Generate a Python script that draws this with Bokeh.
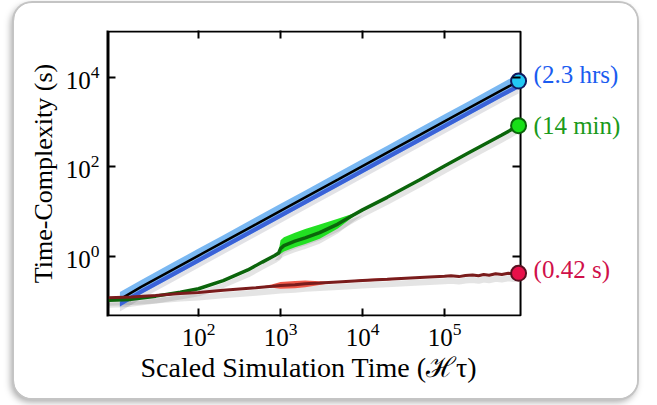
from bokeh.plotting import figure
from bokeh.models import LogAxis, FixedTicker, Range1d, LogScale, BoxAnnotation, ColumnDataSource, Title
from bokeh.core.properties import value
from bokeh.embed import file_html
from bokeh.resources import INLINE

# ---- data ----
x_blue = [11, 20, 50, 100, 200, 500, 1000, 2000, 5000, 10000, 20000, 50000, 100000, 200000, 500000, 800000]
blue = [0.11, 0.21, 0.52, 1.05, 2.1, 5.2, 10.5, 21, 52, 105, 210, 520, 1050, 2100, 5200, 8300]
blue_hi = [0.16, 0.30, 0.75, 1.5, 3.0, 7.5, 15, 30, 75, 150, 300, 750, 1500, 3000, 7500, 12000]
blue_lo = [0.076, 0.145, 0.36, 0.72, 1.45, 3.6, 7.2, 14.5, 36, 72, 145, 360, 720, 1450, 3600, 5700]
blue_mid = [0.098, 0.185, 0.46, 0.93, 1.85, 4.6, 9.3, 18.5, 46, 93, 185, 460, 930, 1850, 4600, 7300]

x_green = [8, 15, 30, 60, 100, 200, 400, 600, 850, 950, 1000, 1100, 1500, 2000, 3000, 5000, 7000,
           10000, 20000, 50000, 100000, 200000, 500000, 800000]
green = [0.105, 0.11, 0.13, 0.16, 0.19, 0.29, 0.5, 0.75, 1.05, 1.2, 1.5, 1.75, 2.2, 2.6, 3.4, 5.3, 7.6,
         11, 21, 52, 105, 210, 520, 840]
green_hi = [0.105, 0.11, 0.13, 0.16, 0.19, 0.29, 0.5, 0.75, 1.05, 1.35, 2.3, 2.7, 3.4, 4.1, 5.2, 7.0, 8.6,
            11, 21, 52, 105, 210, 520, 840]
green_lo = [0.105, 0.11, 0.13, 0.16, 0.19, 0.29, 0.5, 0.75, 1.05, 1.1, 1.15, 1.3, 1.6, 1.9, 2.5, 4.2, 6.8,
            11, 21, 52, 105, 210, 520, 840]

x_red = [8, 15, 30, 60, 100, 200, 500, 800, 1000, 1500, 2000, 3000, 5000, 10000, 20000, 50000,
         100000, 120000, 150000, 180000, 220000, 260000, 300000, 350000, 420000, 500000, 600000, 700000, 800000]
red = [0.12, 0.125, 0.135, 0.148, 0.157, 0.175, 0.2, 0.215, 0.225, 0.235, 0.245, 0.255, 0.27, 0.29, 0.31, 0.34,
       0.36, 0.37, 0.355, 0.375, 0.385, 0.37, 0.395, 0.38, 0.41, 0.395, 0.42, 0.405, 0.42]
red_hi = [0.12, 0.125, 0.135, 0.148, 0.157, 0.175, 0.2, 0.24, 0.27, 0.285, 0.29, 0.28, 0.27, 0.31, 0.33, 0.34,
          0.36, 0.37, 0.355, 0.375, 0.385, 0.37, 0.395, 0.38, 0.41, 0.395, 0.42, 0.405, 0.42]
red_lo = [0.12, 0.125, 0.135, 0.148, 0.157, 0.175, 0.2, 0.2, 0.19, 0.195, 0.205, 0.23, 0.27, 0.275, 0.29, 0.34,
          0.36, 0.37, 0.355, 0.375, 0.385, 0.37, 0.395, 0.38, 0.41, 0.395, 0.42, 0.405, 0.42]

end_x = [800000, 800000, 800000]
end_y = [8300, 840, 0.42]
end_labels = ["(2.3 hrs)", "(14 min)", "(0.42 s)"]
end_fill = ["#22c8f4", "#18e018", "#e8104a"]
end_line = ["#101a60", "#0b650b", "#5a1020"]
end_text_color = ["#1a5cf0", "#1a9a1a", "#d0104a"]
end_text_dy = [-7, 0, -4]

x_ticks = [100, 1000, 10000, 100000]
y_ticks = [1, 100, 10000]
x_label = "Scaled Simulation Time (ℋτ)"
y_label = "Time-Complexity (s)"

# visible axes box (log10 limits); the drawing frame extends further to the right
BX0, BX1 = 0.89, 5.927
BY0, BY1 = -1.341, 5.05
PX_X, PX_Y = 82.0, 44.75
FRAME_W, FRAME_H = 525, 286
fx1 = BX0 + FRAME_W / PX_X
SERIF = "Liberation Serif"

p = figure(frame_width=FRAME_W, frame_height=FRAME_H, x_axis_type="log", y_axis_type="log",
           x_range=Range1d(10 ** BX0, 10 ** fx1), y_range=Range1d(10 ** BY0, 10 ** BY1),
           output_backend="svg", toolbar_location=None,
           min_border_left=93, min_border_right=5, min_border_top=27, min_border_bottom=82)
p.margin = (3, 0, 0, 14)
p.border_fill_color = "white"
p.background_fill_color = "white"
p.outline_line_color = None
p.grid.visible = False
p.styles = {"border-radius": "18px", "overflow": "hidden",
            "box-shadow": "0 0 0 2px #c4c4c4, -2px 3px 7px 1px rgba(0,0,0,0.35)"}

# shadow ranges (shift a few pixels down)
sh = 5 / PX_Y
p.extra_y_ranges = {"sh": Range1d(10 ** (BY0 + sh), 10 ** (BY1 + sh))}
p.extra_y_scales = {"sh": LogScale()}

def style_axis(ax, labels=True):
    ax.axis_line_color = None
    ax.major_tick_in = 8
    ax.major_tick_out = 0
    ax.major_tick_line_width = 2
    ax.major_tick_line_color = "black"
    ax.minor_tick_line_color = None
    ax.major_label_text_font = SERIF
    if labels:
        ax.major_label_text_font_size = "25px"
        ax.major_label_text_color = "black"
    else:
        ax.major_label_text_font_size = "1px"
        ax.major_label_text_color = None
        ax.major_label_standoff = 0
    ax.axis_label_text_font = SERIF
    ax.axis_label_text_font_style = "normal"
    ax.axis_label_text_font_size = "26px"
    ax.axis_label_text_color = "black"

xa = p.xaxis[0]
ya = p.yaxis[0]
xa.ticker = FixedTicker(ticks=x_ticks)
ya.ticker = FixedTicker(ticks=y_ticks)
style_axis(xa)
style_axis(ya)
ya.axis_line_color = "black"
ya.axis_line_width = 2
ya.axis_label = y_label
xa.major_label_standoff = 6
ya.major_label_standoff = 8

# x-axis title, placed under the visible box rather than the wider frame
p.add_layout(Title(text=x_label, align="left", offset=33, standoff=2,
                   text_font=SERIF, text_font_size="28px", text_font_style="normal",
                   text_color="black"), "below")

ra = LogAxis(ticker=FixedTicker(ticks=y_ticks), fixed_location=10 ** BX1)
ta = LogAxis(ticker=FixedTicker(ticks=x_ticks))
style_axis(ra, labels=False)
style_axis(ta, labels=False)
p.add_layout(ra, "right")
p.add_layout(ta, "above")

# axes box (inset by 1px so the 2px edges stay inside the frame)
p.add_layout(BoxAnnotation(left=10 ** (BX0 + 1 / PX_X), right=10 ** BX1,
                           bottom=10 ** (BY0 + 1 / PX_Y), top=10 ** (BY1 - 1 / PX_Y),
                           fill_color=None, fill_alpha=0, line_color="black", line_alpha=1,
                           line_width=2, level="underlay"))

# shadows
p.varea(x=x_blue, y1=blue_lo, y2=blue_hi, fill_color="#202040", fill_alpha=0.13, y_range_name="sh")
p.line(x_green, green, line_color="#202020", line_width=5, line_alpha=0.12, y_range_name="sh")
p.varea(x=x_green, y1=green_lo, y2=green_hi, fill_color="#202020", fill_alpha=0.12, y_range_name="sh")
p.line(x_red, red, line_color="#202020", line_width=6, line_alpha=0.12, y_range_name="sh")

# blue
p.varea(x=x_blue, y1=blue_lo, y2=blue_hi, fill_color="#7ab8f2")
p.varea(x=x_blue, y1=blue_lo, y2=blue_mid, fill_color="#3a62d8")
p.line(x_blue, blue, line_color="black", line_width=2.5)

# green
p.varea(x=x_green, y1=green_lo, y2=green_hi, fill_color="#22e022")
p.line(x_green, green, line_color="#0b650b", line_width=3.5)

# red
p.varea(x=x_red, y1=red_lo, y2=red_hi, fill_color="#f05a4a")
p.line(x_red, red, line_color="#7a1c1c", line_width=3)

# endpoints
src = ColumnDataSource(dict(x=end_x, y=end_y, label=end_labels, fill=end_fill,
                            line=end_line, tcol=end_text_color, dy=end_text_dy))
p.scatter("x", "y", source=src, size=15, fill_color="fill", line_color="line", line_width=2)
p.text("x", "y", text="label", source=src, x_offset=15, y_offset="dy",
       text_color="tcol", text_font=value(SERIF), text_font_size="25px",
       text_baseline="middle", text_align="left")

open("out.html", "w").write(file_html(p, INLINE))
